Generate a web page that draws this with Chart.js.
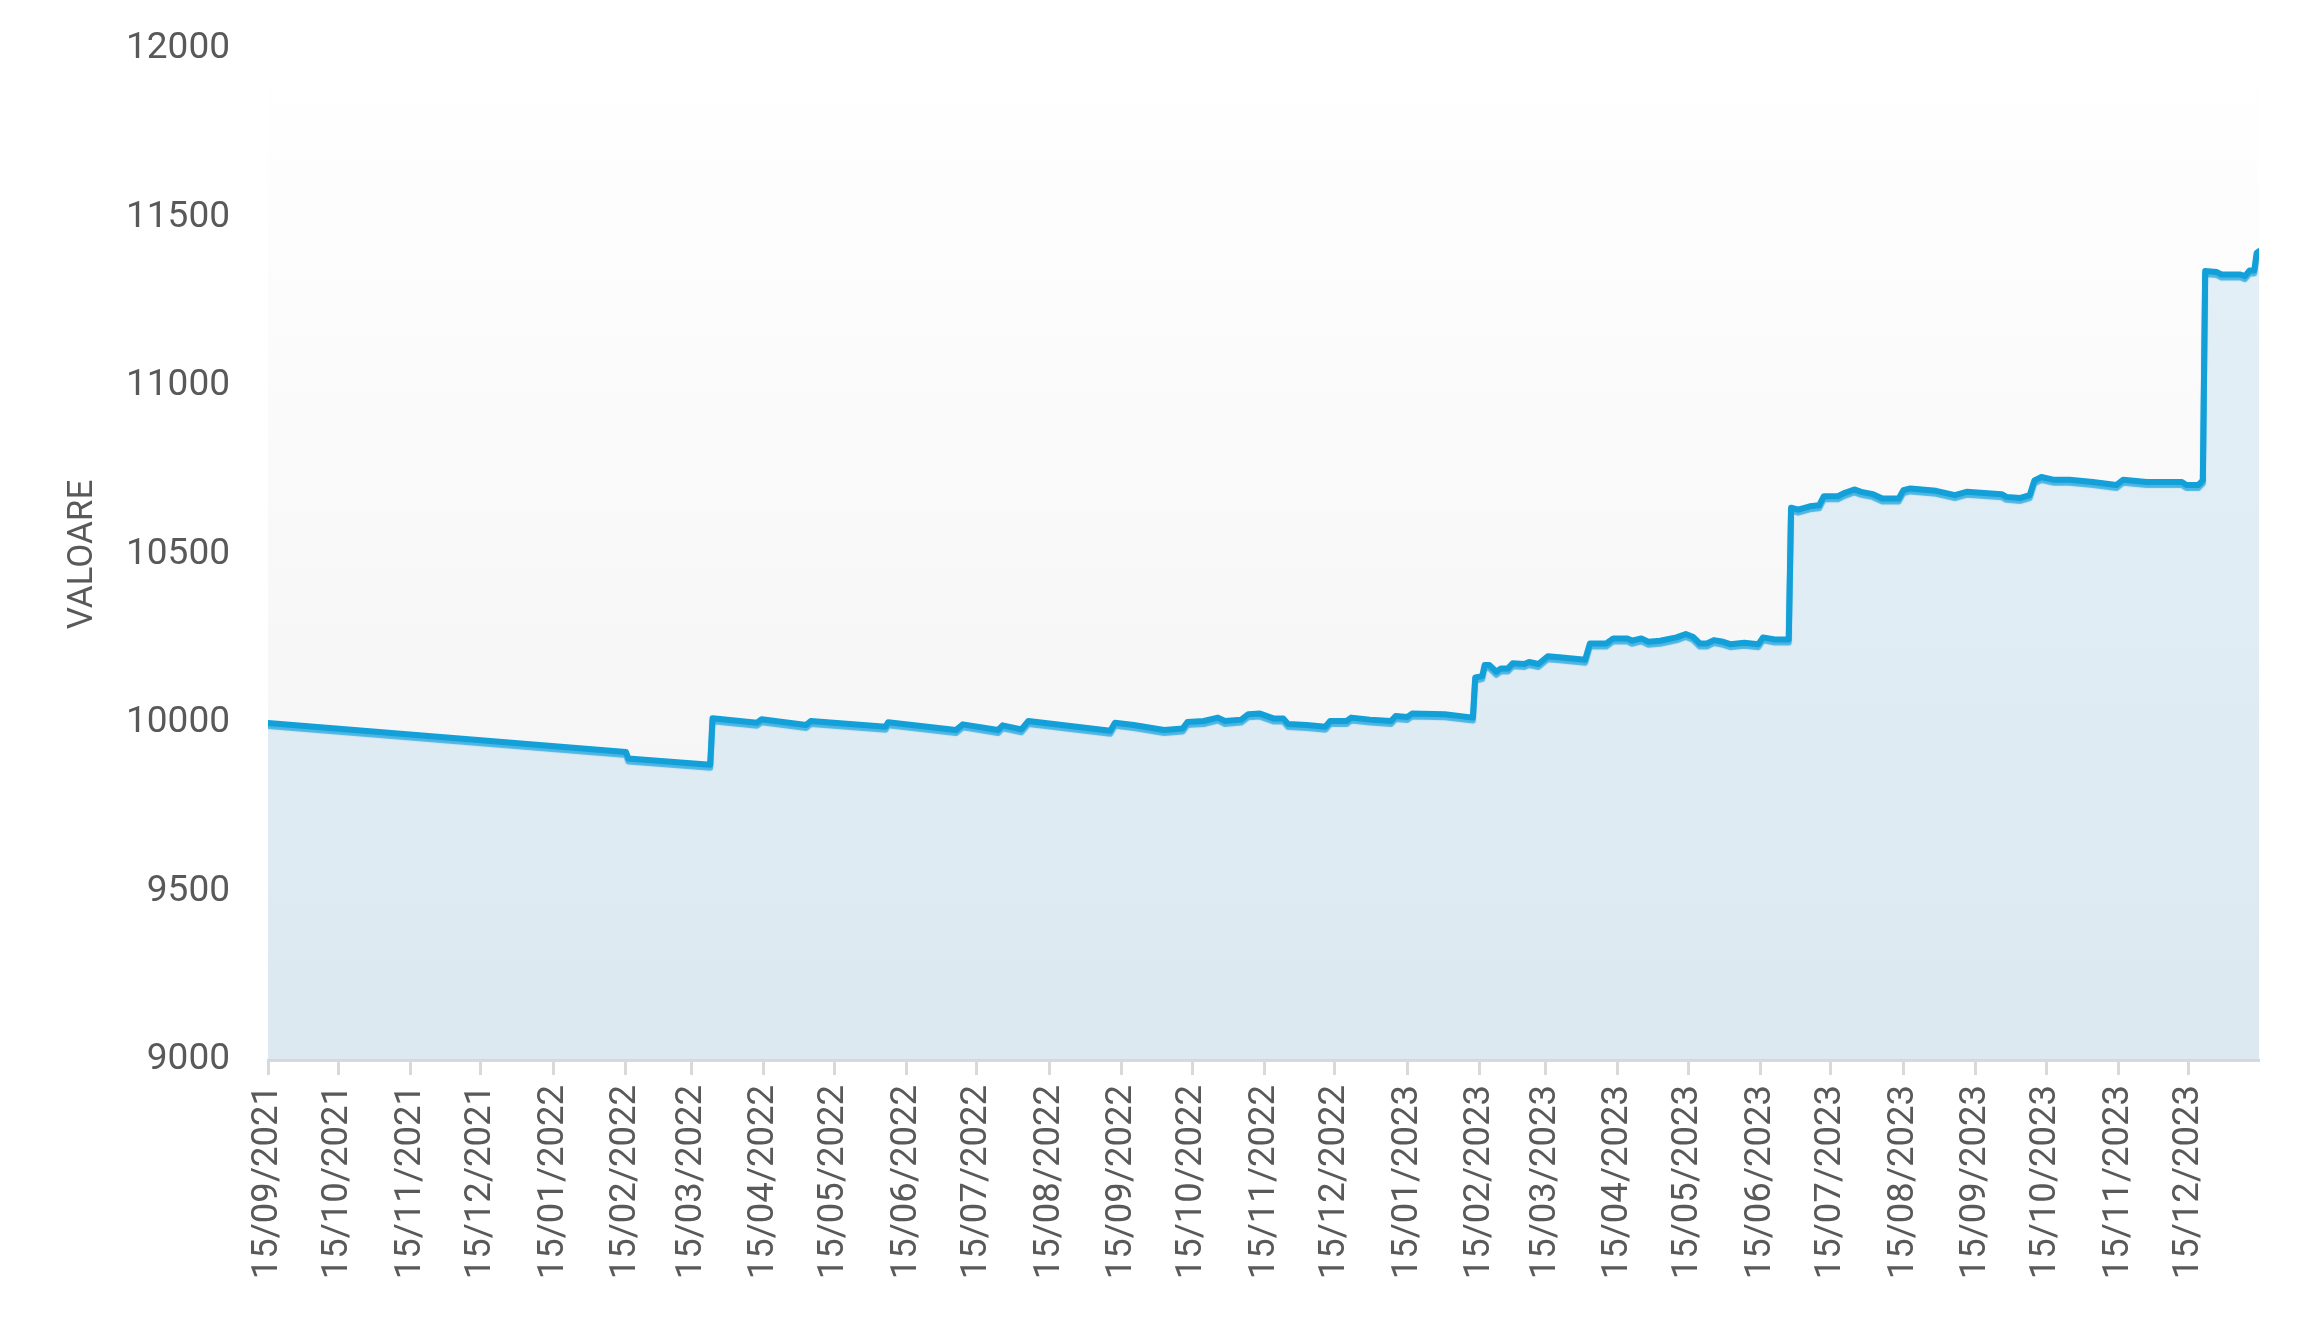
<!DOCTYPE html>
<html>
<head>
<meta charset="utf-8">
<script src="https://cdn.jsdelivr.net/npm/chart.js@4.4.1/dist/chart.umd.min.js"></script>
<style>
    body { margin: 0; background: #ffffff; }
    #cutie { width: 2309px; height: 1320px; position: relative; }
</style>
</head>
<body>
<div id="cutie"><canvas id="grafic"></canvas></div>
<script>
// date si valori
const datele = [
    '2021-09-15', '2022-02-15', '2022-02-16', '2022-03-23', '2022-03-24', '2022-04-12', '2022-04-14',
    '2022-05-03', '2022-05-05', '2022-06-06', '2022-06-07', '2022-07-06', '2022-07-09', '2022-07-24',
    '2022-07-26', '2022-08-03', '2022-08-06', '2022-09-10', '2022-09-12', '2022-09-20', '2022-10-03',
    '2022-10-11', '2022-10-13', '2022-10-20', '2022-10-26', '2022-10-29', '2022-11-05', '2022-11-08',
    '2022-11-13', '2022-11-19', '2022-11-23', '2022-11-25', '2022-12-03', '2022-12-11', '2022-12-13',
    '2022-12-20', '2022-12-22', '2022-12-30', '2023-01-08', '2023-01-10', '2023-01-15', '2023-01-17',
    '2023-01-31', '2023-02-12', '2023-02-13', '2023-02-16', '2023-02-17', '2023-02-19', '2023-02-22',
    '2023-02-24', '2023-02-27', '2023-03-01', '2023-03-06', '2023-03-08', '2023-03-12', '2023-03-16',
    '2023-03-21', '2023-04-01', '2023-04-03', '2023-04-10', '2023-04-13', '2023-04-19', '2023-04-21',
    '2023-04-25', '2023-04-28', '2023-05-03', '2023-05-10', '2023-05-14', '2023-05-17', '2023-05-20',
    '2023-05-23', '2023-05-26', '2023-05-30', '2023-06-02', '2023-06-08', '2023-06-14', '2023-06-16',
    '2023-06-21', '2023-06-27', '2023-06-28', '2023-07-01', '2023-07-06', '2023-07-10', '2023-07-12',
    '2023-07-18', '2023-07-21', '2023-07-25', '2023-07-28', '2023-08-02', '2023-08-06', '2023-08-13',
    '2023-08-15', '2023-08-18', '2023-08-29', '2023-09-06', '2023-09-11', '2023-09-26', '2023-09-28',
    '2023-10-04', '2023-10-08', '2023-10-10', '2023-10-13', '2023-10-18', '2023-10-25', '2023-11-04',
    '2023-11-14', '2023-11-17', '2023-11-27', '2023-12-12', '2023-12-14', '2023-12-19', '2023-12-21',
    '2023-12-22', '2023-12-27', '2023-12-29', '2024-01-06', '2024-01-08', '2024-01-10', '2024-01-12',
    '2024-01-13', '2024-01-14'
];

const valori = [
    10000, 9914, 9895, 9876, 10014, 10001, 10011,
    9994, 10006, 9989, 10002, 9979, 9996, 9979,
    9993, 9981, 10006, 9977, 10001, 9994, 9979,
    9984, 10003, 10006, 10016, 10006, 10010, 10026,
    10028, 10013, 10013, 9997, 9994, 9989, 10006,
    10006, 10016, 10010, 10006, 10021, 10018, 10028,
    10026, 10016, 10135, 10139, 10172, 10172, 10152,
    10162, 10162, 10177, 10175, 10181, 10175, 10198,
    10195, 10188, 10236, 10236, 10251, 10251, 10244,
    10251, 10241, 10244, 10254, 10264, 10256, 10236,
    10236, 10246, 10241, 10234, 10238, 10234, 10254,
    10248, 10248, 10639, 10633, 10643, 10646, 10673,
    10673, 10683, 10693, 10686, 10679, 10666, 10666,
    10691, 10696, 10689, 10676, 10686, 10679, 10671,
    10668, 10676, 10720, 10730, 10722, 10722, 10715,
    10706, 10722, 10715, 10715, 10706, 10706, 10720,
    11341, 11338, 11331, 11331, 11326, 11343, 11343,
    11395, 11400
];

const eticheteX = [
    '15/09/2021', '15/10/2021', '15/11/2021', '15/12/2021', '15/01/2022', '15/02/2022', '15/03/2022',
    '15/04/2022', '15/05/2022', '15/06/2022', '15/07/2022', '15/08/2022', '15/09/2022', '15/10/2022',
    '15/11/2022', '15/12/2022', '15/01/2023', '15/02/2023', '15/03/2023', '15/04/2023', '15/05/2023',
    '15/06/2023', '15/07/2023', '15/08/2023', '15/09/2023', '15/10/2023', '15/11/2023', '15/12/2023'
];

const valoriY = [9000, 9500, 10000, 10500, 11000, 11500, 12000];

const ZI = 86400000;
const inceput = Date.UTC(2021, 8, 15);

function zileIso(s) {
    const p = s.split('-').map(Number);
    return (Date.UTC(p[0], p[1] - 1, p[2]) - inceput) / ZI;
}

function zileEticheta(s) {
    const p = s.split('/').map(Number);
    return (Date.UTC(p[2], p[1] - 1, p[0]) - inceput) / ZI;
}

const puncte = datele.map((d, i) => ({ x: zileIso(d), y: valori[i] }));
const pozitiiX = eticheteX.map(zileEticheta);

const culoareText = '#595959';

// fundal in degrade in zona graficului
const fundal = {
    id: 'fundal',
    beforeDraw(chart) {
        const a = chart.chartArea;
        const ctx = chart.ctx;
        const g = ctx.createLinearGradient(0, a.top, 0, a.bottom);
        g.addColorStop(0, '#ffffff');
        g.addColorStop(1, '#f2f2f2');
        ctx.save();
        ctx.fillStyle = g;
        ctx.fillRect(a.left, a.top, a.right - a.left, a.bottom - a.top);
        ctx.restore();
    }
};

// umbra sub linie
const umbra = {
    id: 'umbra',
    beforeDatasetDraw(chart) {
        const ctx = chart.ctx;
        ctx.save();
        ctx.shadowColor = 'rgba(60, 175, 225, 0.9)';
        ctx.shadowBlur = 1;
        ctx.shadowOffsetY = 3;
    },
    afterDatasetDraw(chart) {
        chart.ctx.restore();
    }
};

const ctx = document.getElementById('grafic').getContext('2d');

new Chart(ctx, {
    type: 'line',
    data: {
        datasets: [{
            label: 'Valoare',
            data: puncte,
            borderColor: '#139fd7',
            borderWidth: 6,
            backgroundColor: 'rgba(185, 218, 240, 0.38)',
            fill: 'start',
            pointRadius: 0,
            tension: 0,
            borderJoinStyle: 'round',
            borderCapStyle: 'round'
        }]
    },
    options: {
        responsive: true,
        maintainAspectRatio: false,
        animation: false,
        devicePixelRatio: 1,
        layout: {
            padding: { top: 49, right: 50, left: 0, bottom: 0 }
        },
        plugins: {
            legend: { display: false },
            tooltip: { enabled: false }
        },
        scales: {
            x: {
                type: 'linear',
                min: 0,
                max: puncte[puncte.length - 1].x,
                afterBuildTicks: function(scale) {
                    scale.ticks = pozitiiX.map(v => ({ value: v }));
                },
                afterFit: function(scale) {
                    scale.height = 260;
                },
                grid: {
                    display: true,
                    drawOnChartArea: false,
                    drawTicks: true,
                    tickLength: 15,
                    tickColor: '#d9d9d9',
                    tickWidth: 3
                },
                border: {
                    display: true,
                    color: '#d9d9d9',
                    width: 3
                },
                ticks: {
                    autoSkip: false,
                    maxRotation: 90,
                    minRotation: 90,
                    padding: 10,
                    color: culoareText,
                    font: { family: 'Roboto', size: 36.5 },
                    callback: function(value) {
                        const i = pozitiiX.indexOf(value);
                        return i >= 0 ? eticheteX[i] : '';
                    }
                }
            },
            y: {
                min: valoriY[0],
                max: valoriY[valoriY.length - 1],
                afterBuildTicks: function(scale) {
                    scale.ticks = valoriY.map(v => ({ value: v }));
                },
                afterFit: function(scale) {
                    scale.width = 268;
                },
                grid: { display: false },
                border: { display: false },
                ticks: {
                    padding: 30,
                    color: culoareText,
                    font: { family: 'Roboto', size: 37, lineHeight: 1 },
                    callback: function(value) {
                        return String(value);
                    }
                },
                title: {
                    display: true,
                    text: 'VALOARE',
                    color: culoareText,
                    padding: { top: 62, bottom: 0 },
                    font: { family: 'Roboto', size: 35 }
                }
            }
        }
    },
    plugins: [fundal, umbra]
});
</script>
</body>
</html>
